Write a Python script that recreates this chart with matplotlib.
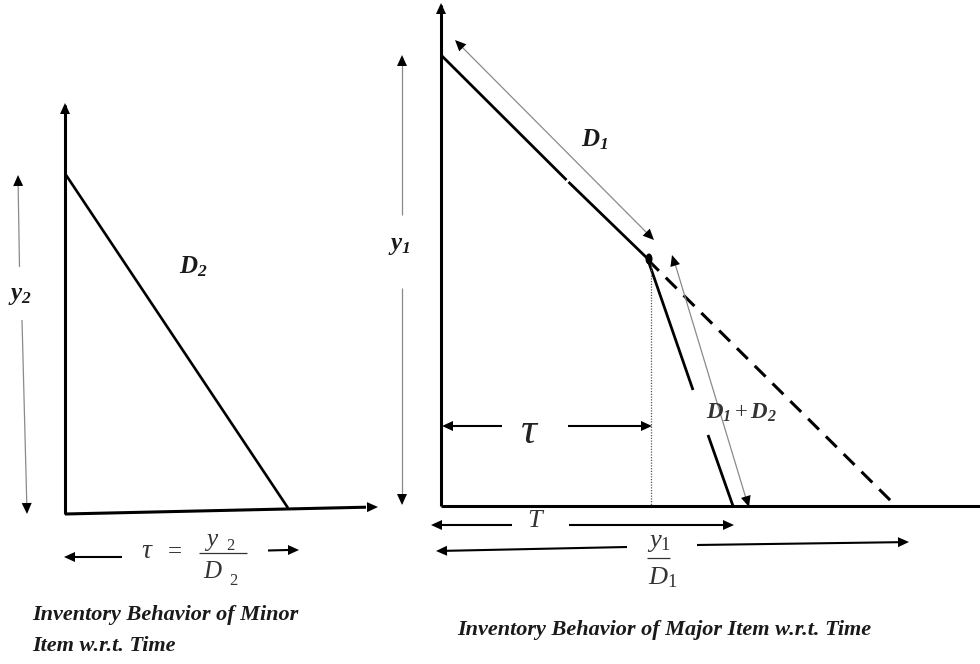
import numpy as np
import matplotlib
matplotlib.use('Agg')
import matplotlib.pyplot as plt
from matplotlib.patches import Polygon, Ellipse

plt.rcParams['font.family'] = ['Liberation Serif', 'DejaVu Serif']
plt.rcParams['mathtext.fontset'] = 'custom'
plt.rcParams['mathtext.rm'] = 'Liberation Serif'
plt.rcParams['mathtext.it'] = 'Liberation Serif:italic'
plt.rcParams['mathtext.bf'] = 'Liberation Serif:bold:italic'

# ── geometry of the sketch (pixel units, y grows downward) ─────────────────────
# minor item panel
minor_yaxis_x = [65, 65]
minor_yaxis_y = [514, 105]
minor_xaxis_x = [65, 376]
minor_xaxis_y = [514, 507]
minor_stock_x = [66, 288]
minor_stock_y = [175, 508]
y2_arrow_x = [18, 19.5, 22, 27]
y2_arrow_y = [177, 267, 320, 512]

# major item panel
major_yaxis_x = [441, 441]
major_yaxis_y = [506, 5]
major_xaxis_x = [441, 980]
major_xaxis_y = [506, 506]
d1_stock_x = [442, 566.5, 568.5, 648]
d1_stock_y = [56, 180, 182, 259]
d12_stock_x = [648, 693, 708, 733]
d12_stock_y = [260, 390, 435, 506]
d1_extend_x = [648, 892]
d1_extend_y = [260, 502]
tau_mark_x = [651, 651]
tau_mark_y = [264, 506]
y1_arrow_x = [402, 402, 402, 402]
y1_arrow_y = [57, 215, 288, 503]
d1_arrow_x = [457, 652]
d1_arrow_y = [42, 238]
d12_arrow_x = [673, 748]
d12_arrow_y = [257, 505]

fig = plt.figure(figsize=(9.8, 6.64), dpi=100)
ax = fig.add_axes([0, 0, 1, 1])
ax.set_xlim(0, 980)
ax.set_ylim(664, 0)
ax.axis('off')

GREY = '#8a8a8a'
INK = '#1a1a1a'


def head(x0, y0, x1, y1, L=11, W=5):
    d = np.hypot(x1 - x0, y1 - y0)
    ux, uy = (x1 - x0) / d, (y1 - y0) / d
    bx, by = x1 - L * ux, y1 - L * uy
    pts = [(x1, y1), (bx - W * uy, by + W * ux), (bx + W * uy, by - W * ux)]
    ax.add_patch(Polygon(pts, closed=True, facecolor='black', edgecolor='none', zorder=5))


def seg(xs, ys, **kw):
    ax.plot(xs, ys, solid_capstyle='butt', **kw)


# ── minor item ─────────────────────────────────────────────────────────────────
seg(minor_yaxis_x, minor_yaxis_y, color='black', lw=2.2)
head(65, 200, 65, 103)
seg(minor_xaxis_x[:1] + [366], minor_xaxis_y[:1] + [507.2], color='black', lw=2.2)
head(300, 508, 378, 507)
seg(minor_stock_x, minor_stock_y, color='black', lw=1.9)

seg(y2_arrow_x[:2], y2_arrow_y[:2], color=GREY, lw=0.9)
seg(y2_arrow_x[2:], y2_arrow_y[2:], color=GREY, lw=0.9)
head(19.5, 267, 18, 175)
head(22, 320, 27, 514)
ax.text(20, 296, r'$\mathbf{y_2}$', fontsize=18, ha='center', va='center', color=INK)
ax.text(193, 267, r'$\mathbf{D_2}$', fontsize=18, ha='center', va='center', color=INK)

# tau = y2 / D2
seg([122, 75], [557, 557], color='black', lw=1.5)
head(122, 557, 64, 557)
ax.text(146, 551, 'τ', fontsize=20, style='italic', ha='center', va='center', color='#333333')
ax.text(175, 552, '=', fontsize=18, ha='center', va='center', color='#333333')
seg([199, 247], [553, 553], color='#333333', lw=0.9)
ax.text(212, 540, 'y', fontsize=18, style='italic', ha='center', va='center', color='#333333')
ax.text(230, 546, '2', fontsize=12, ha='center', va='center', color='#333333')
ax.text(212, 572, 'D', fontsize=18, style='italic', ha='center', va='center', color='#333333')
ax.text(233, 581, '2', fontsize=12, ha='center', va='center', color='#333333')
seg([268, 288], [550.5, 550], color='black', lw=1.5)
head(268, 550, 299, 550)

ax.text(32, 615, 'Inventory Behavior of Minor', fontsize=16,
        fontweight='bold', style='italic', color=INK, ha='left', va='center')
ax.text(32, 646, 'Item w.r.t. Time', fontsize=16,
        fontweight='bold', style='italic', color=INK, ha='left', va='center')

# ── major item ─────────────────────────────────────────────────────────────────
seg(major_yaxis_x, major_yaxis_y, color='black', lw=2.2)
head(441, 100, 441, 3)
seg(major_xaxis_x, major_xaxis_y, color='black', lw=2.2)
seg(d1_stock_x[:2], d1_stock_y[:2], color='black', lw=2.0)
seg(d1_stock_x[2:], d1_stock_y[2:], color='black', lw=2.0)
ax.add_patch(Ellipse((649, 259), 7, 11, facecolor='black', edgecolor='none', zorder=6))
seg(d12_stock_x[:2], d12_stock_y[:2], color='black', lw=2.0)
seg(d12_stock_x[2:], d12_stock_y[2:], color='black', lw=2.0)
ax.plot(d1_extend_x, d1_extend_y, color='black', lw=2.2, dashes=(5, 3.2))
ax.plot(tau_mark_x, tau_mark_y, color='#555555', lw=0.9, ls=(0, (1, 1.2)))

seg(y1_arrow_x[:2], y1_arrow_y[:2], color=GREY, lw=0.9)
seg(y1_arrow_x[2:], y1_arrow_y[2:], color=GREY, lw=0.9)
head(402, 215, 402, 55)
head(402, 288, 402, 505)
ax.text(399, 246, r'$\mathbf{y_1}$', fontsize=18, ha='center', va='center', color=INK)

seg(d1_arrow_x, d1_arrow_y, color=GREY, lw=0.9)
head(652, 238, 455, 40)
head(457, 42, 654, 240)
ax.text(595, 140, r'$\mathbf{D_1}$', fontsize=18, ha='center', va='center', color=INK)

seg(d12_arrow_x, d12_arrow_y, color=GREY, lw=0.9)
head(748, 505, 672, 255)
head(673, 257, 749, 507)
ax.text(742, 413, r'$\mathbf{D_1} + \mathbf{D_2}$', fontsize=16.5, ha='center',
        va='center', color='#333333')

# tau bracket
seg([452, 502], [426, 426], color='black', lw=1.5)
head(502, 426, 442, 426)
ax.text(528, 432, 'τ', fontsize=32, style='italic', ha='center', va='center', color='#222222')
seg([568, 642], [426, 426], color='black', lw=1.5)
head(568, 426, 652, 426)

# T bracket
seg([442, 512], [525, 525], color='black', lw=1.5)
head(512, 525, 431, 525)
ax.text(535, 521, 'T', fontsize=19, style='italic', ha='center', va='center', color='#333333')
seg([569, 723], [525, 525], color='black', lw=1.5)
head(569, 525, 734, 525)

# y1 / D1 bracket
seg([447, 627], [550.8, 547], color='black', lw=1.5)
head(627, 547, 436, 551)
ax.text(659, 543, r'$y_1$', fontsize=19, ha='center', va='center', color='#333333')
seg([647, 670], [558, 558], color='#333333', lw=0.9)
ax.text(663, 578, r'$D_1$', fontsize=19, ha='center', va='center', color='#333333')
seg([697, 898], [545, 542.2], color='black', lw=1.5)
head(697, 545, 909, 542)

ax.text(457, 630, 'Inventory Behavior of Major Item w.r.t. Time', fontsize=16,
        fontweight='bold', style='italic', color=INK, ha='left', va='center')

fig.savefig('out.png', dpi=100, facecolor='white')
